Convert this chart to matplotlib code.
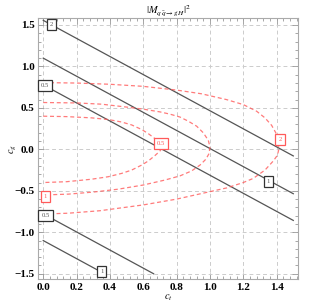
# Contornos de |M|^2 en el plano (c_t, c_g)

import matplotlib
matplotlib.use('Agg')
import matplotlib.pyplot as plt
from matplotlib.ticker import MultipleLocator

# Líneas negras (rectas): extremos
negro_etiquetas = ['2', '1', '0.5', '0.5', '1']
negro_ct = [[0.0, 1.5], [0.0, 1.5], [0.0, 1.5], [0.0, 0.662], [0.0, 0.367]]
negro_cg = [[1.556, -0.079], [1.10, -0.535], [0.778, -0.857], [-0.778, -1.5], [-1.10, -1.5]]
negro_pos_etiqueta = [(0.048, 1.50), (1.35, -0.39), (0.012, 0.766), (0.014, -0.796), (0.35, -1.47)]

# Curvas rojas discontinuas: niveles 0.5, 1 y 2
rojo_etiquetas = ['0.5', '1', '2']
rojo_ct = [
    [0.00, 0.14, 0.29, 0.39, 0.47, 0.53, 0.59, 0.63, 0.67, 0.70, 0.713,
     0.70, 0.67, 0.63, 0.59, 0.53, 0.47, 0.39, 0.29, 0.14, 0.00],
    [0.00, 0.20, 0.35, 0.50, 0.60, 0.70, 0.76, 0.82, 0.87, 0.92, 0.96, 0.99, 1.00,
     0.995, 0.975, 0.94, 0.89, 0.82, 0.73, 0.60, 0.45, 0.30, 0.15, 0.00],
    [0.00, 0.20, 0.40, 0.60, 0.80, 0.95, 1.10, 1.20, 1.28, 1.33, 1.37, 1.395, 1.41, 1.413,
     1.405, 1.38, 1.33, 1.26, 1.20, 1.10, 1.00, 0.80, 0.60, 0.34, 0.15, 0.00],
]
rojo_cg = [
    [0.40, 0.395, 0.38, 0.36, 0.33, 0.295, 0.24, 0.19, 0.13, 0.07, 0.03,
     -0.02, -0.075, -0.14, -0.19, -0.25, -0.29, -0.33, -0.36, -0.39, -0.40],
    [0.565, 0.56, 0.545, 0.51, 0.485, 0.452, 0.425, 0.39, 0.34, 0.28, 0.20, 0.11, 0.03,
     -0.05, -0.12, -0.19, -0.26, -0.32, -0.37, -0.43, -0.48, -0.515, -0.54, -0.55],
    [0.805, 0.80, 0.785, 0.76, 0.715, 0.67, 0.60, 0.54, 0.46, 0.38, 0.29, 0.20, 0.10, 0.0,
     -0.07, -0.14, -0.25, -0.35, -0.40, -0.465, -0.51, -0.60, -0.67, -0.74, -0.77, -0.78],
]
rojo_pos_etiqueta = [(0.708, 0.074), (0.012, -0.563), (1.42, 0.125)]

x_ticks = [0.0, 0.2, 0.4, 0.6, 0.8, 1.0, 1.2, 1.4]
y_ticks = [-1.5, -1.0, -0.5, 0.0, 0.5, 1.0, 1.5]

GRIS = '#555555'
ROJO = '#ff5a5a'


def contour_plot():
    plt.rcParams['mathtext.fontset'] = 'stix'
    fig = plt.figure(figsize=(3.11, 3.06), dpi=100)
    ax = fig.add_axes([0.123, 0.087, 0.834, 0.853])

    for ct, cg in zip(negro_ct, negro_cg):
        ax.plot(ct, cg, color=GRIS, lw=0.9, zorder=3)
    for ct, cg in zip(rojo_ct, rojo_cg):
        ax.plot(ct, cg, color=ROJO, lw=0.9, alpha=0.8,
                linestyle=(0, (3.2, 2.2)), zorder=3)

    # etiquetas de los contornos
    for txt, (x, y) in zip(negro_etiquetas, negro_pos_etiqueta):
        ax.text(x, y, txt, fontsize=4.8, family='Liberation Serif', color=GRIS,
                ha='center', va='center', zorder=5,
                bbox=dict(boxstyle='square,pad=0.45', fc='white', ec='#333333', lw=0.9))
    for txt, (x, y) in zip(rojo_etiquetas, rojo_pos_etiqueta):
        ax.text(x, y, txt, fontsize=4.8, family='Liberation Serif', color=ROJO,
                ha='center', va='center', zorder=5,
                bbox=dict(boxstyle='square,pad=0.45', fc='white', ec=ROJO, lw=0.9))

    ax.set_xlim(-0.03, 1.526)
    ax.set_ylim(-1.568, 1.58)
    ax.set_xticks(x_ticks)
    ax.set_yticks(y_ticks)
    ax.set_xticklabels(['%.1f' % v for v in x_ticks])
    ax.set_yticklabels([('%.1f' % v).replace('-', '\u2212') for v in y_ticks])
    ax.xaxis.set_minor_locator(MultipleLocator(0.04))
    ax.yaxis.set_minor_locator(MultipleLocator(0.1))
    ax.tick_params(which='both', direction='in', top=True, right=True,
                   color='#999999', width=0.6)
    ax.tick_params(which='major', length=4, labelsize=8, pad=2.5)
    ax.tick_params(which='minor', length=2)
    for lab in ax.get_xticklabels() + ax.get_yticklabels():
        lab.set_family('Liberation Serif')
        lab.set_fontweight('bold')
    for s in ax.spines.values():
        s.set_color('#aaaaaa')
        s.set_linewidth(0.8)

    ax.grid(True, color='#cccccc', linestyle=(0, (4, 3)), linewidth=0.7)
    ax.set_axisbelow(True)

    ax.set_title(r'$|M_{q\,\bar{q}\rightarrow gH}|^2$', fontsize=7.5, pad=2)
    ax.set_xlabel(r'$c_t$', fontsize=7.5)
    ax.set_ylabel(r'$c_g$', fontsize=7.5)
    ax.xaxis.set_label_coords(0.5, -0.05)
    ax.yaxis.set_label_coords(-0.075, 0.5)

    fig.savefig('out.png', dpi=100)


if __name__ == '__main__':
    contour_plot()
